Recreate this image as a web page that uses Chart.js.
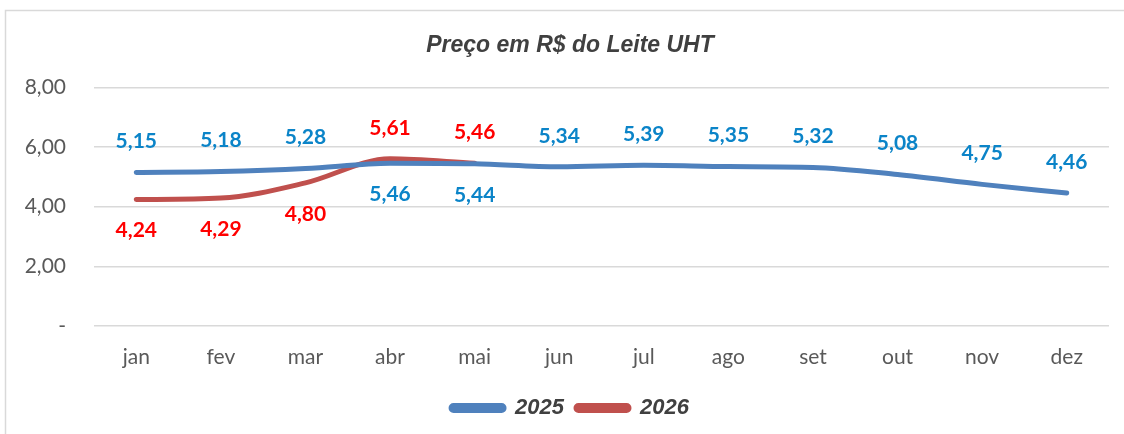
<!DOCTYPE html>
<html>
<head>
<meta charset="utf-8">
<script src="https://cdn.jsdelivr.net/npm/chart.js@4/dist/chart.umd.min.js"></script>
<style>
  html, body { margin: 0; padding: 0; background: #fff; }
  #wrap { width: 1124px; height: 434px; }
</style>
</head>
<body>
<div id="wrap"><canvas id="line-chart" width="1124" height="434"></canvas></div>
<script>
var months = ["jan", "fev", "mar", "abr", "mai", "jun", "jul", "ago", "set", "out", "nov", "dez"];
var prices2025 = [5.15, 5.18, 5.28, 5.46, 5.44, 5.34, 5.39, 5.35, 5.32, 5.08, 4.75, 4.46];
var prices2026 = [4.24, 4.29, 4.80, 5.61, 5.46];
var yTicks = [0, 2, 4, 6, 8];
// where each value label sits: above or below its point
var labelSide2025 = ["up", "up", "up", "down", "down", "up", "up", "up", "up", "up", "up", "up"];
var labelSide2026 = ["down", "down", "down", "up", "up"];

function fmt(v) {
  return v.toFixed(2).replace(".", ",");
}

// draws the value labels (no datalabels plugin offline)
var valueLabels = {
  id: "valueLabels",
  afterDatasetsDraw: function (chart) {
    var ctx = chart.ctx;
    ctx.save();
    ctx.font = "bold 21px Lato";
    ctx.textAlign = "center";
    ctx.textBaseline = "middle";
    chart.data.datasets.forEach(function (ds, i) {
      var meta = chart.getDatasetMeta(i);
      meta.data.forEach(function (pt, j) {
        var side = ds.labelSide[j];
        ctx.fillStyle = ds.labelColor;
        ctx.fillText(fmt(ds.data[j]), pt.x, side === "up" ? pt.y - 31 : pt.y + 31);
      });
    });
    ctx.restore();
  }
};

var frame = {
  id: "frame",
  // title and legend sit a bit right of the canvas centre
  afterLayout: function (chart) {
    if (chart.titleBlock) { chart.titleBlock.left = 31; }
    if (chart.legend) {
      chart.legend.left = 31;
      chart.legend.top -= 4;
    }
  },
  beforeDraw: function (chart) {
    var ctx = chart.ctx;
    ctx.save();
    ctx.strokeStyle = "#D9D9D9";
    ctx.lineWidth = 1.5;
    ctx.strokeRect(5.5, 10.5, 1130, 440);
    ctx.restore();
  }
};

function lineChart() {
  new Chart(document.getElementById("line-chart"), {
    type: "line",
    data: {
      labels: months,
      datasets: [
        {
          label: "2025",
          data: prices2025,
          borderColor: "#4F81BD",
          backgroundColor: "#4F81BD",
          borderWidth: 5,
          borderCapStyle: "round",
          cubicInterpolationMode: "monotone",
          pointRadius: 0,
          labelColor: "#0B84C8",
          labelSide: labelSide2025
        },
        {
          label: "2026",
          data: prices2026,
          borderColor: "#C0504D",
          backgroundColor: "#C0504D",
          borderWidth: 5,
          borderCapStyle: "round",
          cubicInterpolationMode: "monotone",
          pointRadius: 0,
          labelColor: "#FF0000",
          labelSide: labelSide2026
        }
      ]
    },
    options: {
      responsive: false,
      animation: false,
      layout: {
        padding: { left: 0, right: 15, top: 0, bottom: 1 }
      },
      plugins: {
        tooltip: { enabled: false },
        title: {
          display: true,
          text: "Preço em R$ do Leite UHT",
          color: "#404040",
          font: { family: "Liberation Sans", size: 23, weight: "bold", style: "italic" },
          padding: { top: 32, bottom: 28 }
        },
        legend: {
          position: "bottom",
          labels: {
            color: "#404040",
            font: { family: "Liberation Sans", size: 22, weight: "bold", style: "italic" },
            boxWidth: 53,
            boxHeight: 5,
            useBorderRadius: true,
            borderRadius: 2.5,
            padding: 12
          }
        }
      },
      scales: {
        x: {
          offset: true,
          grid: { display: false, drawTicks: false },
          border: { display: false },
          ticks: {
            color: "#595959",
            font: { family: "Lato", size: 21 },
            padding: 19
          }
        },
        y: {
          min: 0,
          max: 8,
          afterBuildTicks: function (axis) {
            axis.ticks = yTicks.map(function (v) { return { value: v }; });
          },
          afterFit: function (axis) {
            axis.width = 94;
          },
          grid: { color: "#D9D9D9", lineWidth: 1.5, drawTicks: false },
          border: { display: false },
          ticks: {
            color: "#595959",
            font: { family: "Lato", size: 21 },
            padding: 28,
            callback: function (v) {
              return v === 0 ? "-" : fmt(v);
            }
          }
        }
      }
    },
    plugins: [frame, valueLabels]
  });
}

document.addEventListener("DOMContentLoaded", function () {
  lineChart();
});
</script>
</body>
</html>
